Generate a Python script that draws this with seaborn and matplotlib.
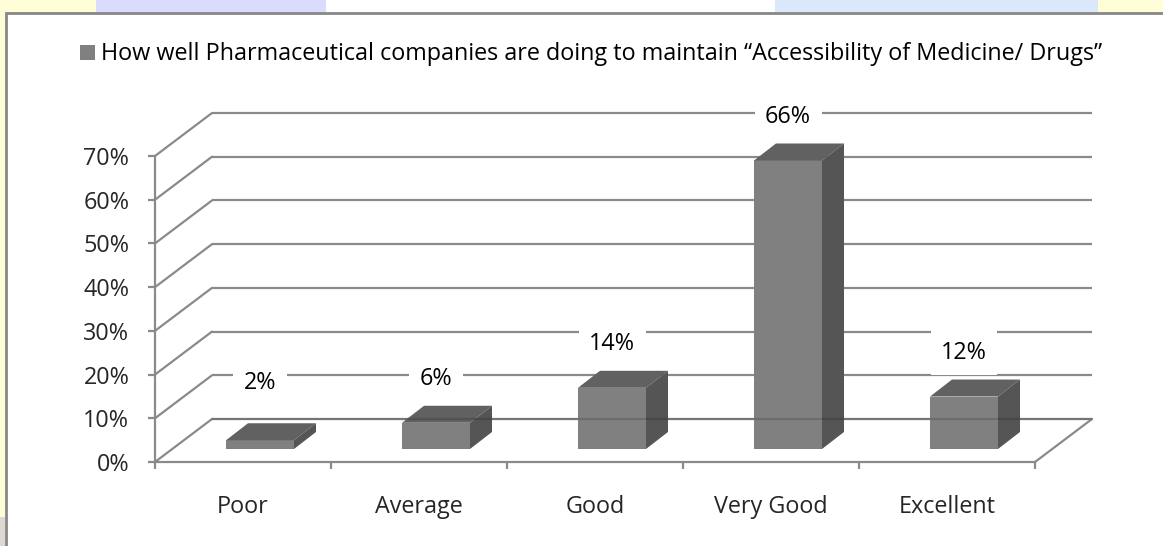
import matplotlib
matplotlib.use("Agg")
import matplotlib.pyplot as plt
import numpy as np
import pandas as pd
import seaborn as sns
from matplotlib.patches import Polygon, Rectangle
from matplotlib.transforms import ScaledTranslation

# ---- data -------------------------------------------------------------
categories = ["Poor", "Average", "Good", "Very Good", "Excellent"]
shares = [2, 6, 14, 66, 12]
y_ticks = [0, 10, 20, 30, 40, 50, 60, 70]
y_tick_labels = [f"{t}%" for t in y_ticks]
series_label = ("How well Pharmaceutical companies are doing to maintain "
                "\u201cAccessibility of Medicine/ Drugs\u201d")

df = pd.DataFrame({"category": categories, "share": shares})

# ---- canvas -------------------------------------------------------------
W, H, DPI = 1163, 546, 100
sns.set_style("white")
plt.rcParams["font.family"] = ["Open Sans", "DejaVu Sans"]
FS = 16.8

fig = plt.figure(figsize=(W / DPI, H / DPI), dpi=DPI)
fig.patch.set_facecolor("#fffdd8")


def fig_rect(x0, y0, x1, y1, **kw):
    """Rectangle given in pixel coordinates from the top-left corner."""
    r = Rectangle((x0 / W, 1 - y1 / H), (x1 - x0) / W, (y1 - y0) / H,
                  transform=fig.transFigure, zorder=-10, **kw)
    fig.add_artist(r)


# page background around the chart frame
fig_rect(96, 0, 326, 12, facecolor="#d8dbfb", lw=0)
fig_rect(326, 0, 775, 12, facecolor="#ffffff", lw=0)
fig_rect(775, 0, 1098, 12, facecolor="#d9e9fb", lw=0)
fig_rect(0, 517, 5, 546, facecolor="#ddd8d2", lw=0)
# chart frame
fig_rect(5.5, 12.5, 1175, 560, facecolor="white", edgecolor="#878787", lw=2)

# ---- plot area (front plane) ------------------------------------------
AX_L, AX_R, AX_T, AX_B = 155, 1035, 156, 462
ax = fig.add_axes([AX_L / W, 1 - AX_B / H, (AX_R - AX_L) / W, (AX_B - AX_T) / H])
ax.set_facecolor("none")

CAT_PX = (AX_R - AX_L) / len(categories)
PCT_PX = (AX_B - AX_T) / 70.0


def px_x(p):
    return p / CAT_PX


def px_y(p):
    return p / PCT_PX


GRID = "#8a8a8a"
back_dx, back_dy = px_x(57), px_y(43)      # wall depth of the 3-D box
front_dx, front_dy = px_x(17), px_y(13)    # bar front inset from the floor edge
depth_dx, depth_dy = px_x(22), px_y(17)    # bar depth

# back wall gridlines and the diagonals joining them to the value axis
for t in y_ticks:
    ax.plot([-0.5 + back_dx, 4.5 + back_dx], [t + back_dy, t + back_dy],
            color=GRID, lw=1.6, clip_on=False, zorder=1, solid_capstyle="butt")
    ax.plot([-0.5, -0.5 + back_dx], [t, t + back_dy],
            color=GRID, lw=1.6, clip_on=False, zorder=1)
# right edge of the floor
ax.plot([4.5, 4.5 + back_dx], [0, back_dy], color=GRID, lw=1.6,
        clip_on=False, zorder=1)

# ---- bars ---------------------------------------------------------------
BAR_W = 68 / CAT_PX
sns.barplot(data=df, x="category", y="share", order=categories,
            width=BAR_W, color="#808080", saturation=1, edgecolor="none",
            ax=ax, zorder=3)

shift = ScaledTranslation(17 / DPI, 13 / DPI, fig.dpi_scale_trans)
for patch in list(ax.patches):
    patch.set_transform(ax.transData + shift)
    patch.set_clip_on(False)
    patch.set_zorder(3)
    x0 = patch.get_x()
    x1 = x0 + patch.get_width()
    h = patch.get_height()
    top = Polygon([(x0, h), (x1, h), (x1 + depth_dx, h + depth_dy),
                   (x0 + depth_dx, h + depth_dy)], closed=True,
                  facecolor="#616161", edgecolor="none",
                  transform=ax.transData + shift, clip_on=False, zorder=3)
    side = Polygon([(x1, 0), (x1 + depth_dx, depth_dy),
                    (x1 + depth_dx, h + depth_dy), (x1, h)], closed=True,
                   facecolor="#555555", edgecolor="none",
                   transform=ax.transData + shift, clip_on=False, zorder=3)
    ax.add_patch(top)
    ax.add_patch(side)

# floor edge seen through the bars
ax.plot([-0.5 + back_dx, 4.5 + back_dx], [back_dy, back_dy],
        color="black", alpha=0.15, lw=1.6, clip_on=False, zorder=4)

# value labels
for i, v in enumerate(shares):
    ax.text(i + front_dx, max(v, 5) + 10 + front_dy, f"{v}%",
            ha="center", va="center", fontsize=FS, color="black", zorder=6,
            bbox=dict(boxstyle="square,pad=0.45", facecolor="white",
                      edgecolor="none"))

# ---- axes styling ---------------------------------------------------------
ax.set_xlim(-0.5, 4.5)
ax.set_ylim(0, 70)
for side_name in ["top", "right"]:
    ax.spines[side_name].set_visible(False)
for side_name in ["left", "bottom"]:
    ax.spines[side_name].set_color(GRID)
    ax.spines[side_name].set_linewidth(1.6)

ax.set_yticks(y_ticks)
ax.set_yticklabels(y_tick_labels, fontsize=FS)
ax.tick_params(axis="y", direction="out", length=5, width=1.6,
               color=GRID, pad=13.5, left=True)

ax.set_xticks(np.arange(-0.5, 5.0, 1.0))
ax.set_xticklabels([])
ax.set_xticks(np.arange(len(categories)), minor=True)
ax.set_xticklabels(categories, minor=True, fontsize=FS)
ax.tick_params(axis="x", which="major", direction="out", length=5,
               width=1.6, color=GRID, bottom=True)
ax.tick_params(axis="x", which="minor", length=0, pad=24)
ax.set_xlabel("")
ax.set_ylabel("")

# ---- series key -----------------------------------------------------------
fig_rect(80, 45, 95, 60, facecolor="#808080", lw=0)
fig.text(101 / W, 1 - 53.5 / H, series_label, ha="left", va="center",
         fontsize=FS, color="black")

fig.savefig("out.png", dpi=DPI)
